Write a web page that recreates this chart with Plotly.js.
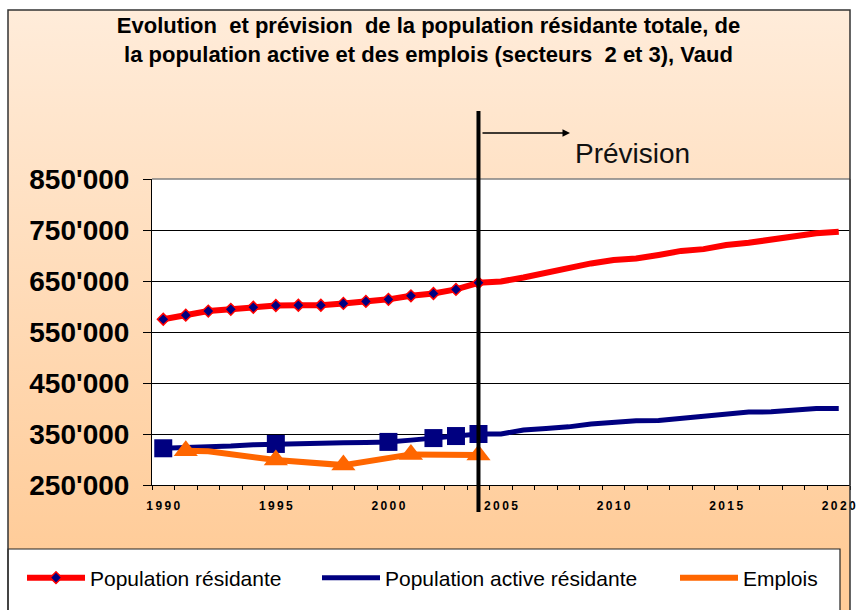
<!DOCTYPE html>
<html>
<head>
<meta charset="utf-8">
<script src="https://cdn.plot.ly/plotly-3.0.1.min.js"></script>
<style>html,body{margin:0;padding:0;background:#fff;}#chart{width:857px;height:610px;}</style>
</head>
<body>
<div id="chart"></div>
<script>
// ---- data ----
const years = [1990,1991,1992,1993,1994,1995,1996,1997,1998,1999,2000,2001,2002,2003,2004,2005,2006,2007,2008,2009,2010,2011,2012,2013,2014,2015,2016,2017,2018,2019,2020];
const popResidante = [575000,583000,591000,594500,598500,602000,602500,602500,606000,610000,614000,621000,625500,633500,646500,649000,657000,666000,676000,684500,691000,694000,701000,709000,712500,720500,725000,731500,735500,743500,746500];
const popActive = [322000,323000,325000,326500,329000,330500,330500,333000,333000,333500,334500,338000,342000,346000,350000,350000,358000,361000,364000,369500,373000,376000,376500,381000,384000,388500,393000,393500,396000,400000,400000];
const emploisYears = [1991,1992,1995,1998,2001,2004];
const emplois = [317000,316000,299000,289000,310000,309000];
const lastObservedYear = 2004;
const activeMarkerYears = [1990,1995,2000,2002,2003,2004];
const emploisMarkerYears = [1991,1995,1998,2001,2004];
const xTickVals = [1990,1995,2000,2005,2010,2015,2020];
const xTickLabels = ["1990","1995","2000","2005","2010","2015","2020"];
const yTickVals = [250000,350000,450000,550000,650000,750000,850000];
const yTickLabels = ["250'000","350'000","450'000","550'000","650'000","750'000","850'000"];
const seriesNames = ["Population résidante","Population active résidante","Emplois"];
const titleLines = ["Evolution\u00A0 et prévision\u00A0 de la population résidante totale, de","la population active et des emplois (secteurs\u00A0 2 et 3), Vaud"];
const forecastLabel = "Prévision";

// ---- helpers ----
const pick = (xs, ys, sel) => sel.map(v => ys[xs.indexOf(v)]);
const iLast = years.indexOf(lastObservedYear);
const spaced = s => s.split('').join('\u2009');
const FONT = 'Arial, "Liberation Sans", sans-serif';

// geometry (pixels)
const W = 857, H = 610, L = 152, R = 850, T = 179, B = 485;
const px2x = p => (p - L) / (R - L);
const py2y = p => (B - p) / (B - T);

const traces = [
  {x: years, y: popActive, mode: 'lines', name: seriesNames[1], legend: 'legend2',
   line: {color: '#000080', width: 5}},
  {x: activeMarkerYears, y: pick(years, popActive, activeMarkerYears), mode: 'markers', showlegend: false,
   marker: {symbol: 'square', size: 18, color: '#000080'}},
  {x: emploisYears, y: emplois, mode: 'lines', name: seriesNames[2], legend: 'legend3',
   line: {color: '#FF6600', width: 6}},
  {x: emploisMarkerYears, y: pick(emploisYears, emplois, emploisMarkerYears), mode: 'markers', showlegend: false,
   marker: {symbol: 'triangle-up', size: 21, color: '#FF6600'}},
  {x: years.slice(iLast), y: popResidante.slice(iLast), mode: 'lines', showlegend: false,
   line: {color: '#FF0000', width: 6}},
  {x: years.slice(0, iLast + 1), y: popResidante.slice(0, iLast + 1), mode: 'lines+markers', name: seriesNames[0], legend: 'legend',
   line: {color: '#FF0000', width: 6},
   marker: {symbol: 'diamond', size: 9, color: '#000080', line: {color: '#FF0000', width: 1.5}}}
];

const gradSvg = '<svg xmlns="http://www.w3.org/2000/svg" width="100" height="100" viewBox="0 0 100 100" preserveAspectRatio="none">' +
  '<defs><linearGradient id="g" x1="0" y1="0" x2="0" y2="1">' +
  '<stop offset="0" stop-color="#FFECDA"/><stop offset="0.9" stop-color="#FFCC99"/><stop offset="1" stop-color="#FFCC99"/>' +
  '</linearGradient></defs><rect width="100" height="100" fill="url(#g)"/></svg>';

const legendBase = {orientation: 'h', yanchor: 'middle', xanchor: 'left', y: py2y(578),
  bgcolor: 'rgba(0,0,0,0)', borderwidth: 0, itemwidth: 58,
  font: {family: FONT, size: 21, color: '#000'}};

const layout = {
  width: W, height: H,
  margin: {l: L, r: W - R, t: T, b: H - B, pad: 0},
  paper_bgcolor: '#ffffff', plot_bgcolor: '#ffffff',
  showlegend: true,
  title: {text: titleLines.join('<br>'), font: {family: FONT, size: 22, weight: 'bold', color: '#000'},
          xref: 'container', x: 0.5, xanchor: 'center', yref: 'container', y: 1 - 33 / H, yanchor: 'top'},
  xaxis: {range: [1989.5, 2020.5], tickvals: xTickVals, ticktext: xTickLabels.map(spaced),
          ticks: '', showgrid: false, zeroline: false, showline: true, linecolor: '#000', linewidth: 1,
          tickfont: {family: FONT, size: 12, weight: 'bold', color: '#000'}, ticklabelstandoff: 10,
          minor: {tick0: 1989.5, dtick: 1, ticks: 'outside', ticklen: 4, tickcolor: '#000', tickwidth: 1, showgrid: false},
          fixedrange: true},
  yaxis: {range: [250000, 850000], tickvals: yTickVals, ticktext: yTickLabels,
          ticks: 'outside', ticklen: 8, tickcolor: '#000', tickwidth: 1,
          showline: true, linecolor: '#000', linewidth: 1,
          showgrid: true, gridcolor: '#000', gridwidth: 1, zeroline: false,
          tickfont: {family: FONT, size: 28, weight: 'bold', color: '#000'}, ticklabelstandoff: 8,
          fixedrange: true},
  legend: Object.assign({}, legendBase, {x: px2x(22)}),
  legend2: Object.assign({}, legendBase, {x: px2x(317)}),
  legend3: Object.assign({}, legendBase, {x: px2x(675)}),
  images: [{source: 'data:image/svg+xml;charset=utf-8,' + encodeURIComponent(gradSvg),
            xref: 'paper', yref: 'paper', x: px2x(8), y: py2y(10), sizex: px2x(850) - px2x(8), sizey: py2y(10) - py2y(612),
            xanchor: 'left', yanchor: 'top', sizing: 'stretch', layer: 'below'}],
  shapes: [
    {type: 'rect', xref: 'paper', yref: 'paper', x0: 0, x1: 1, y0: 0, y1: 1, fillcolor: '#ffffff', line: {width: 0}, layer: 'below'},
    {type: 'line', xref: 'paper', yref: 'paper', x0: 0, x1: 1, y0: 1, y1: 1, line: {color: '#808080', width: 1.5}, layer: 'above'},
    {type: 'line', xref: 'paper', yref: 'paper', x0: 1, x1: 1, y0: 0, y1: 1, line: {color: '#808080', width: 1.5}, layer: 'above'},
    {type: 'line', xref: 'x', yref: 'paper', x0: lastObservedYear, x1: lastObservedYear, y0: py2y(512), y1: py2y(111),
     line: {color: '#000', width: 4}, layer: 'above'},
    {type: 'rect', xref: 'paper', yref: 'paper', x0: px2x(8), x1: px2x(840), y0: py2y(549), y1: py2y(625),
     fillcolor: '#ffffff', line: {color: '#222', width: 1.2}, layer: 'above'},
    {type: 'rect', xref: 'paper', yref: 'paper', x0: px2x(8), x1: px2x(850), y0: py2y(10), y1: py2y(625),
     fillcolor: 'rgba(0,0,0,0)', line: {color: '#333', width: 1.5}, layer: 'above'}
  ],
  annotations: [
    {xref: 'paper', yref: 'paper', x: px2x(570), y: py2y(133), ax: -89, ay: 0, text: '', showarrow: true,
     arrowhead: 2, arrowsize: 1, arrowwidth: 1.5, arrowcolor: '#000'},
    {xref: 'paper', yref: 'paper', x: px2x(573), y: py2y(153), xanchor: 'left', yanchor: 'middle', showarrow: false,
     text: forecastLabel, font: {family: FONT, size: 28, color: '#111'}}
  ]
};

Plotly.newPlot('chart', traces, layout, {displayModeBar: false, staticPlot: true});
</script>
</body>
</html>
